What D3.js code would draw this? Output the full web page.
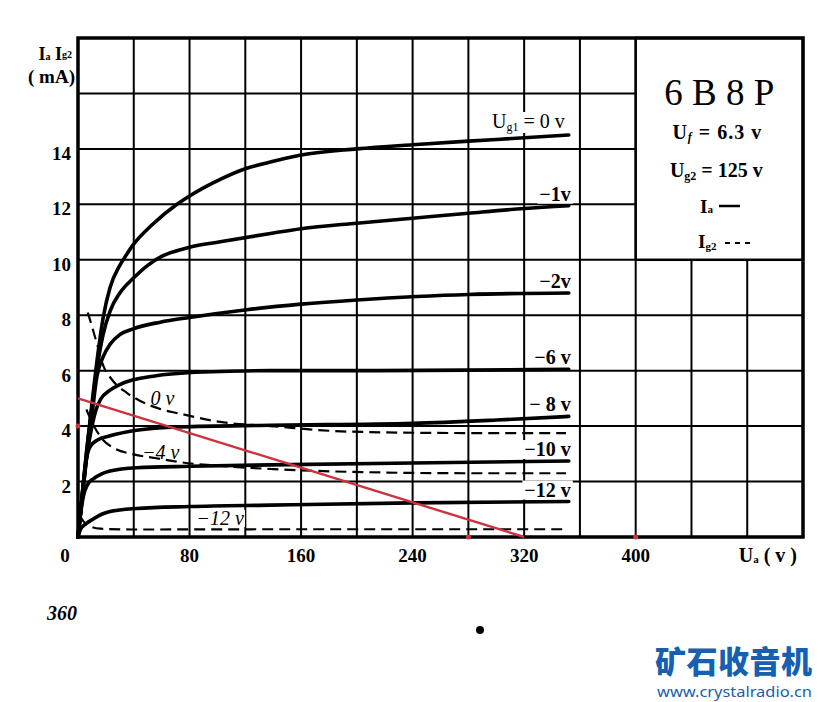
<!DOCTYPE html>
<html>
<head>
<meta charset="utf-8">
<script src="https://cdn.jsdelivr.net/npm/d3@7"></script>
<style>
  body { margin: 0; background: #fff; }
  svg { display: block; font-family: "Liberation Serif", "DejaVu Serif", serif; }
</style>
</head>
<body>
<div id="chart"></div>
<script>
// anode voltage Ua (V) / current (mA)
const xTicks = [0, 80, 160, 240, 320, 400];
const yTicks = [2, 4, 6, 8, 10, 12, 14];

// Ia curves, solid
const ia0 = [[0,0],[3,1.5],[6,3],[10,4.8],[14,6.5],[18,7.9],[23,9.0],[30,9.8],[35,10.2],[39,10.5],[54,11.3],[71,12.0],[80,12.3],[102,12.9],[121,13.3],[140,13.55],[160,13.78],[200,14.0],[240,14.15],[280,14.28],[320,14.4],[352,14.5]];
const ia1 = [[0,0],[3,1.5],[6,3],[10,4.7],[14,6.2],[18,7.3],[23,8.15],[30,8.8],[40,9.35],[50,9.8],[60,10.12],[80,10.45],[102,10.65],[138,10.95],[160,11.12],[200,11.32],[240,11.5],[280,11.68],[320,11.85],[352,11.95]];
const ia2 = [[0,0],[3,1.4],[6,2.8],[10,4.4],[13.6,5.8],[18,6.5],[23,6.95],[30,7.3],[39,7.5],[59,7.75],[80,7.92],[121,8.2],[160,8.4],[200,8.55],[280,8.75],[352,8.8]];
const ia6 = [[0,0],[3,1.4],[6,2.8],[10,4.0],[13,4.6],[16,4.95],[23,5.3],[30,5.5],[54,5.8],[90,5.95],[138,6.0],[200,6.0],[280,6.02],[352,6.05]];
const ia8 = [[0,0],[2,1.0],[4,2.0],[6,2.8],[8.6,3.25],[14,3.5],[23,3.65],[42,3.85],[73,3.97],[138,4.03],[240,4.1],[300,4.22],[352,4.35]];
const ia10 = [[0,0],[2,0.9],[4,1.5],[7,1.9],[11,2.1],[17,2.28],[23,2.38],[42,2.5],[80,2.55],[138,2.6],[240,2.67],[352,2.74]];
const ia12 = [[0,0],[2,0.3],[5,0.45],[11,0.65],[17,0.82],[23,0.92],[42,1.03],[80,1.1],[138,1.15],[240,1.23],[352,1.28]];
const iaLabels = ["Ug1 = 0 v", "−1v", "−2v", "−6 v", "− 8 v", "−10 v", "−12 v"];

// Ig2 curves, dashed
const ig0 = [[7,8.1],[10,7.6],[14,6.9],[18,6.2],[24,5.7],[35,5.2],[45,4.9],[60,4.6],[73,4.45],[102,4.15],[138,4.0],[195,3.8],[280,3.75],[350,3.75]];
const ig4 = [[6,4.6],[12,3.95],[18,3.5],[26,3.2],[40,2.98],[55,2.85],[73,2.7],[100,2.57],[140,2.45],[195,2.35],[280,2.3],[350,2.3]];
const ig12 = [[1.5,0.75],[5,0.5],[9,0.38],[16,0.3],[40,0.27],[150,0.28],[350,0.28]];
const igLabels = ["0 v", "−4 v", "−12 v"];
const igLabelAt = [[52,4.75],[46,2.8],[85,0.43]];

// load line and its marks
const loadLine = [[0,5],[320,0]];
const loadMarks = [[0,4],[280,0],[400,0]];

const width = 822;
const height = 702;

const x = d3.scaleLinear().domain([0, 520]).range([78, 803]);
const y = d3.scaleLinear().domain([0, 18]).range([537, 38]);

const svg = d3.select("#chart")
  .append("svg")
  .attr("width", width)
  .attr("height", height);

// grid
const grid = svg.append("g").attr("stroke", "#000").attr("stroke-width", 2);
grid.selectAll(".vline")
  .data(d3.range(40, 520, 40))
  .join("line")
  .attr("x1", (d) => x(d)).attr("x2", (d) => x(d))
  .attr("y1", y(0)).attr("y2", y(18));
grid.selectAll(".hline")
  .data(d3.range(2, 18, 2))
  .join("line")
  .attr("x1", x(0)).attr("x2", x(520))
  .attr("y1", (d) => y(d)).attr("y2", (d) => y(d));

// legend box covers the upper right cells
svg.append("rect")
  .attr("x", x(400)).attr("y", y(18))
  .attr("width", x(520) - x(400)).attr("height", y(10) - y(18))
  .attr("fill", "#fff").attr("stroke", "#000").attr("stroke-width", 2.5);

// frame
svg.append("rect")
  .attr("x", x(0)).attr("y", y(18))
  .attr("width", x(520) - x(0)).attr("height", y(0) - y(18))
  .attr("fill", "none").attr("stroke", "#000").attr("stroke-width", 3.5);

const line = d3.line()
  .x((d) => x(d[0]))
  .y((d) => y(d[1]))
  .curve(d3.curveMonotoneX);

const bgLayer = svg.append("g");
const curveLayer = svg.append("g");
const textLayer = svg.append("g");

function addSub(text, main, sub, rest, size) {
  text.append("tspan").text(main);
  text.append("tspan").attr("font-size", size * 0.6).attr("dy", 3).text(sub);
  text.append("tspan").attr("dy", -3).text(rest);
}

// Ia curves
const iaSeries = [ia0, ia1, ia2, ia6, ia8, ia10, ia12];
curveLayer.selectAll(".ia")
  .data(iaSeries)
  .join("path")
  .attr("fill", "none")
  .attr("stroke", "#000")
  .attr("stroke-width", 3.6)
  .attr("stroke-linecap", "round")
  .attr("d", line);

iaSeries.forEach((s, i) => {
  const last = s[s.length - 1];
  const t = textLayer.append("text")
    .attr("x", x(last[0]) + (i === 0 ? -4 : 2))
    .attr("y", y(last[1]) - (i === 0 ? 7 : 5))
    .attr("text-anchor", "end")
    .attr("font-size", 20)
    .attr("font-weight", i === 0 ? "normal" : "bold");
  if (i === 0) addSub(t, "U", "g1", " = 0 v", 20);
  else t.text(iaLabels[i]);
  const b = t.node().getBBox();
  bgLayer.append("rect")
    .attr("x", b.x - 2).attr("y", b.y + 2)
    .attr("width", b.width + 4).attr("height", b.height - 3)
    .attr("fill", "#fff");
});

// Ig2 curves
const igSeries = [ig0, ig4, ig12];
curveLayer.selectAll(".ig")
  .data(igSeries)
  .join("path")
  .attr("fill", "none")
  .attr("stroke", "#000")
  .attr("stroke-width", 2.2)
  .attr("stroke-dasharray", "11,6")
  .attr("d", line);

igSeries.forEach((s, i) => {
  const t = textLayer.append("text")
    .attr("x", x(igLabelAt[i][0]))
    .attr("y", y(igLabelAt[i][1]))
    .attr("font-size", 20)
    .attr("font-style", "italic")
    .text(igLabels[i]);
  const b = t.node().getBBox();
  bgLayer.append("rect")
    .attr("x", b.x - 1).attr("y", b.y + 3)
    .attr("width", b.width + 2).attr("height", b.height - 5)
    .attr("fill", "#fff");
});

// load line
curveLayer.append("path")
  .attr("fill", "none")
  .attr("stroke", "#cc3340")
  .attr("stroke-width", 2.4)
  .attr("d", d3.line().x((d) => x(d[0])).y((d) => y(d[1]))(loadLine));
curveLayer.selectAll(".mark")
  .data(loadMarks)
  .join("circle")
  .attr("cx", (d) => x(d[0]))
  .attr("cy", (d) => y(d[1]))
  .attr("r", 2.5)
  .attr("fill", "#cc3340");

// tick labels
textLayer.selectAll(".xt")
  .data(xTicks)
  .join("text")
  .attr("x", (d) => x(d) - (d === 0 ? 13 : 0))
  .attr("y", y(0) + 25)
  .attr("text-anchor", "middle")
  .attr("font-size", 19)
  .attr("font-weight", "bold")
  .text((d) => d);

textLayer.selectAll(".yt")
  .data(yTicks)
  .join("text")
  .attr("x", x(0) - 7)
  .attr("y", (d) => y(d) + 11)
  .attr("text-anchor", "end")
  .attr("font-size", 19)
  .attr("font-weight", "bold")
  .text((d) => d);

// axis titles
const ua = textLayer.append("text")
  .attr("x", 797).attr("y", y(0) + 25)
  .attr("text-anchor", "end")
  .attr("font-size", 20).attr("font-weight", "bold");
ua.append("tspan").text("U");
ua.append("tspan").attr("font-size", 11).attr("dy", 1).text("a");
ua.append("tspan").attr("dy", -1).text(" (  v  )");

const yt = textLayer.append("text")
  .attr("x", 72).attr("y", 60)
  .attr("text-anchor", "end")
  .attr("font-size", 18).attr("font-weight", "bold");
yt.append("tspan").text("I");
yt.append("tspan").attr("font-size", 10).text("a");
yt.append("tspan").text(" I");
yt.append("tspan").attr("font-size", 10).attr("dy", -2).text("g2");
textLayer.append("text")
  .attr("x", 75).attr("y", 83)
  .attr("text-anchor", "end")
  .attr("font-size", 19).attr("font-weight", "bold")
  .text("( mA)");

// legend content
const cx = (x(400) + x(520)) / 2;
textLayer.append("text")
  .attr("x", cx).attr("y", 105)
  .attr("text-anchor", "middle")
  .attr("font-size", 37)
  .text("6 B 8 P");
const uf = textLayer.append("text")
  .attr("x", cx - 2).attr("y", 139)
  .attr("text-anchor", "middle")
  .attr("font-size", 20).attr("font-weight", "bold")
  .attr("letter-spacing", 1);
uf.append("tspan").text("U");
uf.append("tspan").attr("font-size", 12).attr("font-style", "italic").attr("dy", 2).text("f");
uf.append("tspan").attr("dy", -2).text(" = 6.3  v");
const ug2 = textLayer.append("text")
  .attr("x", cx - 3).attr("y", 177)
  .attr("text-anchor", "middle")
  .attr("font-size", 20).attr("font-weight", "bold");
addSub(ug2, "U", "g2", " = 125  v", 20);

const iaL = textLayer.append("text")
  .attr("x", 700).attr("y", 213)
  .attr("font-size", 19).attr("font-weight", "bold");
iaL.append("tspan").text("I");
iaL.append("tspan").attr("font-size", 11).text("a");
textLayer.append("line")
  .attr("x1", 719).attr("x2", 740).attr("y1", 206).attr("y2", 206)
  .attr("stroke", "#000").attr("stroke-width", 2.5);
const igL = textLayer.append("text")
  .attr("x", 698).attr("y", 248)
  .attr("font-size", 19).attr("font-weight", "bold");
igL.append("tspan").text("I");
igL.append("tspan").attr("font-size", 11).attr("dy", 2).text("g2");
textLayer.append("line")
  .attr("x1", 725).attr("x2", 753).attr("y1", 243).attr("y2", 243)
  .attr("stroke", "#000").attr("stroke-width", 2)
  .attr("stroke-dasharray", "5,5");

// page furniture of the scan
svg.append("text")
  .attr("x", 47).attr("y", 620)
  .attr("font-size", 20).attr("font-weight", "bold").attr("font-style", "italic")
  .text("360");
svg.append("circle").attr("cx", 480).attr("cy", 630).attr("r", 4).attr("fill", "#000");

svg.append("text")
  .attr("x", 812).attr("y", 673)
  .attr("text-anchor", "end")
  .attr("font-family", "'Noto Sans CJK SC', sans-serif")
  .attr("font-weight", 900)
  .attr("font-size", 31)
  .attr("fill", "#1560b0")
  .attr("textLength", 157)
  .text("矿石收音机");
svg.append("text")
  .attr("x", 657).attr("y", 697)
  .attr("font-family", "'Noto Sans', sans-serif")
  .attr("font-size", 15)
  .attr("fill", "#1560b0")
  .attr("textLength", 155)
  .attr("lengthAdjust", "spacingAndGlyphs")
  .text("www.crystalradio.cn");
</script>
</body>
</html>
